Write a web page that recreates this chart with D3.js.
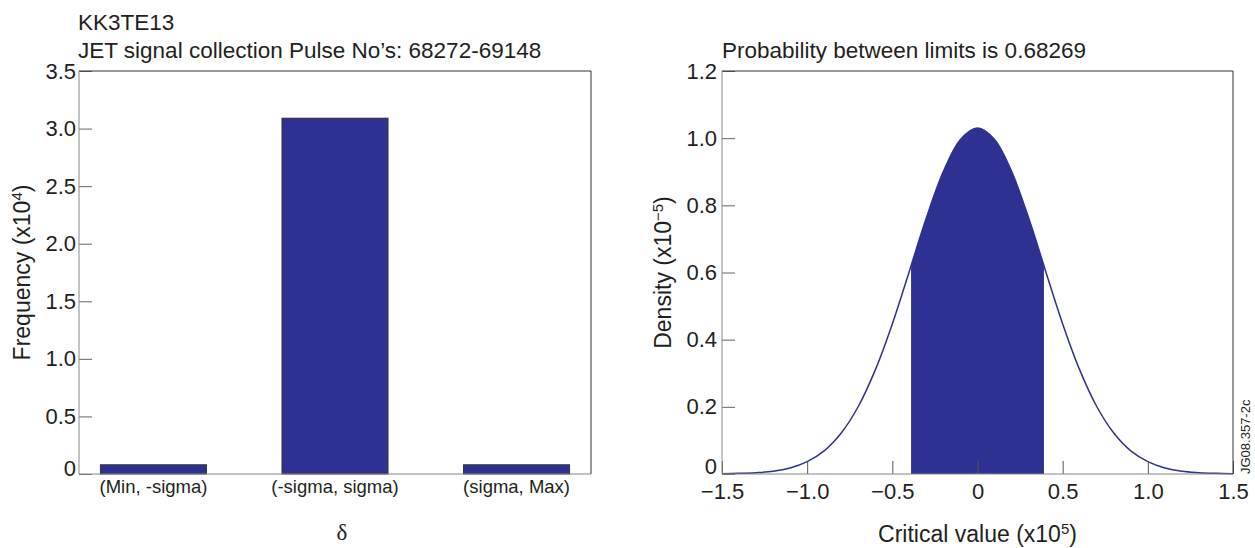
<!DOCTYPE html>
<meta charset="utf-8" />
<script src="https://d3js.org/d3.v7.min.js"></script>
<style>
  body { margin: 0; background: #fff; }
  text { font-family: "Liberation Sans", Arial, sans-serif; fill: #231f20; }
</style>
<svg id="chart" width="1255" height="548"></svg>
<script>
  // ---- data ----
  // left panel: counts per interval (x10^4)
  var categories = ["(Min, -sigma)", "(-sigma, sigma)", "(sigma, Max)"];
  var frequency = [0.08, 3.09, 0.08];
  var freqTicks = [0, 0.5, 1.0, 1.5, 2.0, 2.5, 3.0, 3.5];

  // right panel: density curve (x10^-5) against critical value (x10^5)
  var critValue = [-1.5, -1.4, -1.3, -1.2, -1.1, -1.0, -0.9, -0.8, -0.7, -0.6, -0.5, -0.4, -0.39, -0.3, -0.2, -0.1, 0,
                   0.1, 0.2, 0.3, 0.39, 0.4, 0.5, 0.6, 0.7, 0.8, 0.9, 1.0, 1.1, 1.2, 1.3, 1.4, 1.5];
  var density = [0.001, 0.002, 0.004, 0.008, 0.018, 0.037, 0.069, 0.122, 0.201, 0.31, 0.447, 0.604, 0.62, 0.763, 0.901, 0.996, 1.03,
                 0.996, 0.901, 0.763, 0.62, 0.604, 0.447, 0.31, 0.201, 0.122, 0.069, 0.037, 0.018, 0.008, 0.004, 0.002, 0.001];
  var limits = [-0.39, 0.39];
  var densTicks = [0, 0.2, 0.4, 0.6, 0.8, 1.0, 1.2];
  var critTicks = [-1.5, -1.0, -0.5, 0, 0.5, 1.0, 1.5];

  var blue = "#2e3192";
  var svg = d3.select("#chart");

  function fmt(d) {
    if (d === 0) return "0";
    return d3.format(".1f")(d).replace("-", "\u2212");
  }

  // box: grey left/bottom, dark top/right
  function frame(g, x0, x1, y0, y1) {
    g.append("line").attr("x1", x0).attr("x2", x1).attr("y1", y0).attr("y2", y0).attr("stroke", "#333");
    g.append("line").attr("x1", x1).attr("x2", x1).attr("y1", y0).attr("y2", y1).attr("stroke", "#333");
    g.append("line").attr("x1", x0).attr("x2", x0).attr("y1", y0).attr("y2", y1).attr("stroke", "#888");
    g.append("line").attr("x1", x0).attr("x2", x1).attr("y1", y1).attr("y2", y1).attr("stroke", "#888");
  }

  // ================= left panel =================
  var left = svg.append("g");
  var xBand = d3.scaleBand().domain(categories).range([79, 591])
    .paddingInner(0.416).paddingOuter(0.118);
  var yFreq = d3.scaleLinear().domain([0, 3.5]).range([474, 71]);

  left.selectAll("rect.bar")
    .data(frequency)
    .enter()
    .append("rect")
    .attr("class", "bar")
    .attr("x", function(d, i) { return xBand(categories[i]); })
    .attr("width", xBand.bandwidth())
    .attr("y", function(d) { return yFreq(d); })
    .attr("height", function(d) { return yFreq(0) - yFreq(d); })
    .attr("fill", blue)
    .attr("stroke", "#333")
    .attr("stroke-width", 1);

  var yAxisL = left.append("g")
    .attr("transform", "translate(79,0)")
    .call(d3.axisLeft(yFreq).tickValues(freqTicks).tickFormat(fmt)
      .tickSizeInner(-13).tickSizeOuter(0).tickPadding(3));
  yAxisL.select(".domain").remove();
  yAxisL.selectAll("line").attr("stroke", "#666");
  yAxisL.selectAll("text").style("font-size", "22px")
    .attr("y", function(d) { return d === 0 ? -6 : 0; });

  var xAxisL = left.append("g")
    .attr("transform", "translate(0,474)")
    .call(d3.axisBottom(xBand).tickSize(0).tickPadding(6));
  xAxisL.select(".domain").remove();
  xAxisL.selectAll("text").style("font-size", "18.5px");

  frame(left, 79, 591, 71, 474);

  left.append("text").attr("x", 78).attr("y", 30).style("font-size", "22.5px").text("KK3TE13");
  left.append("text").attr("x", 78).attr("y", 58).style("font-size", "22.5px")
    .text("JET signal collection Pulse No\u2019s: 68272-69148");

  var yLabL = left.append("text")
    .attr("transform", "translate(30,272.5) rotate(-90)")
    .attr("text-anchor", "middle")
    .style("font-size", "23px");
  yLabL.append("tspan").text("Frequency (x10");
  yLabL.append("tspan").attr("dy", -8).style("font-size", "15px").text("4");
  yLabL.append("tspan").attr("dy", 8).text(")");

  left.append("text").attr("x", 342).attr("y", 540).attr("text-anchor", "middle")
    .style("font-family", "Liberation Serif, DejaVu Serif, serif").style("font-size", "23px")
    .text("\u03b4");

  // ================= right panel =================
  var right = svg.append("g");
  var xCrit = d3.scaleLinear().domain([-1.5, 1.5]).range([722, 1233]);
  var yDens = d3.scaleLinear().domain([0, 1.2]).range([474, 71]);

  var pts = critValue.map(function(c, i) { return [c, density[i]]; });
  var inside = pts.filter(function(p) { return p[0] >= limits[0] && p[0] <= limits[1]; });

  right.append("path")
    .datum(inside)
    .attr("fill", blue)
    .attr("d", d3.area()
      .x(function(p) { return xCrit(p[0]); })
      .y0(yDens(0))
      .y1(function(p) { return yDens(p[1]); })
      .curve(d3.curveCatmullRom));

  right.append("path")
    .datum(pts)
    .attr("fill", "none")
    .attr("stroke", blue)
    .attr("stroke-width", 1.5)
    .attr("d", d3.line()
      .x(function(p) { return xCrit(p[0]); })
      .y(function(p) { return yDens(p[1]); })
      .curve(d3.curveCatmullRom));

  var yAxisR = right.append("g")
    .attr("transform", "translate(722,0)")
    .call(d3.axisLeft(yDens).tickValues(densTicks).tickFormat(fmt)
      .tickSizeInner(-13).tickSizeOuter(0).tickPadding(5));
  yAxisR.select(".domain").remove();
  yAxisR.selectAll("line").attr("stroke", "#666");
  yAxisR.selectAll("text").style("font-size", "22px")
    .attr("y", function(d) { return d === 0 ? -8 : 0; });

  var xAxisR = right.append("g")
    .attr("transform", "translate(0,474)")
    .call(d3.axisBottom(xCrit).tickValues(critTicks).tickFormat(fmt)
      .tickSizeInner(-13).tickSizeOuter(0).tickPadding(9));
  xAxisR.select(".domain").remove();
  xAxisR.selectAll("line").attr("stroke", "#555");
  xAxisR.selectAll("text").style("font-size", "22px");

  frame(right, 722, 1233, 71, 474);

  right.append("text").attr("x", 722).attr("y", 58).style("font-size", "22.5px")
    .text("Probability between limits is 0.68269");

  var yLabR = right.append("text")
    .attr("transform", "translate(671,272.5) rotate(-90)")
    .attr("text-anchor", "middle")
    .style("font-size", "23px");
  yLabR.append("tspan").text("Density (x10");
  yLabR.append("tspan").attr("dy", -8).style("font-size", "15px").text("\u22125");
  yLabR.append("tspan").attr("dy", 8).text(")");

  var xLabR = right.append("text")
    .attr("x", 977.5).attr("y", 542).attr("text-anchor", "middle")
    .style("font-size", "23px");
  xLabR.append("tspan").text("Critical value (x10");
  xLabR.append("tspan").attr("dy", -8).style("font-size", "15px").text("5");
  xLabR.append("tspan").attr("dy", 8).text(")");

  right.append("text")
    .attr("transform", "translate(1250,474) rotate(-90)")
    .style("font-size", "13px")
    .text("JG08.357-2c");
</script>
